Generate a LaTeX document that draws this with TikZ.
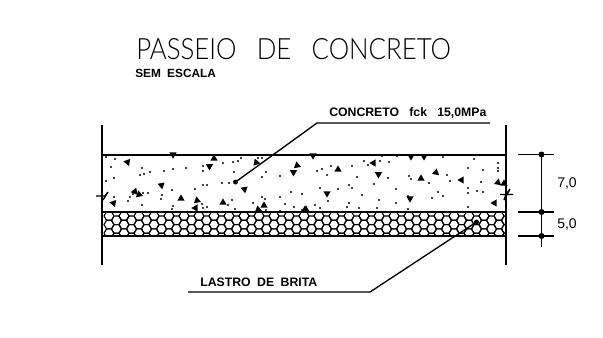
\documentclass[tikz,border=0pt]{standalone}
\usepackage{fontspec}
\setmainfont{Liberation Sans}
\newfontfamily\titlefont[FakeStretch=0.88]{Lato Light}
\usetikzlibrary{positioning,calc}

\tikzset{
	wallline/.style={line width=1.2pt,black},
	layerline/.style={line width=1.1pt,black},
	leaderline/.style={line width=1pt,black},
	dimline/.style={line width=1pt,black},
	hexline/.style={line width=0.85pt,black},
	labeltext/.style={inner sep=0pt,font=\fontsize{9.2}{11}\selectfont\bfseries},
	dimtext/.style={inner sep=0pt,font=\fontsize{10.5}{12}\selectfont},
}

\begin{document}
\begin{tikzpicture}[x=0.75pt,y=-0.75pt]
	\useasboundingbox (0,0) rectangle (603,337);
	
	% titulo
	\node[inner sep=0pt,anchor=west,font=\fontsize{22}{24}\selectfont\titlefont] (titulo) at (136,49.5) {PASSEIO\hspace{0.45em} DE\hspace{0.45em} CONCRETO};
	\node[labeltext,anchor=west,font=\fontsize{8.9}{10}\selectfont\bfseries] (escala) at (135,73.5) {SEM\hspace{0.25em} ESCALA};
	
	% brita
	\begin{scope}
		\clip (102,212) rectangle (506,236);
		\foreach \c in {0,...,27} {
			\foreach \r in {0,...,3} {
				\foreach \s in {0,1} {
					\draw[hexline,shift={(109+15*\c+7.5*\s,216+8.6*\r+4.3*\s)}]
						(-5,0) -- (-2.5,-4.3) -- (2.5,-4.3) -- (5,0) -- (2.5,4.3) -- (-2.5,4.3) -- cycle;
				}
			}
		}
	\end{scope}
	
	% camadas e paredes
	\draw[layerline] (102,155) -- (506,155);
	\draw[layerline] (102,212) -- (506,212);
	\draw[layerline] (102,236) -- (506,236);
	\draw[wallline] (102,125) -- (102,265);
	\draw[wallline] (506,125) -- (506,265);
	
	% linhas de corte
	\draw[line width=1pt] (96,196) -- (105,196) -- (108,192) -- (103,200);
	\draw[line width=1pt] (500,194.5) -- (506,194.5) -- (510,189) -- (504,200) -- (506,194.5) -- (513,194.5);
	
	% pontos do concreto
	\foreach \x/\y in {106/157,115/159,111/167,114/178,106/181,142/168,150/172,144/174,140/175,164/171,
		173/169,186/168,203/166,203/171,223/163,233/162,238/161,241/158,234/172,258/158,
		262/158,266/172,262/177,280/176,222/183,229/183,203/185,207/185,195/189,172/190,
		162/186,148/193,143/193,133/194,130/197,128/201,114/197,142/205,162/195,161/199,
		202/204,207/207,203/208,173/206,172/209,232/200,228/205,235/209,253/203,262/197,
		265/199,266/210,280/197,285/204,291/192,302/194,294/207,302/210,280/211,317/171,
		322/169,327/175,331/166,352/166,357/177,364/161,368/165,380/161,389/162,388/178,
		374/184,409/176,411/179,429/183,447/175,450/181,468/168,483/170,474/159,498/163,
		498/168,498/171,481/182,468/188,468/193,477/191,483/192,320/188,338/189,349/185,
		352/188,362/195,396/189,379/200,396/203,438/192,443/196,432/198,408/196,315/205,
		320/208,328/201,349/203,347/207,359/208,377/208,408/209,468/207,443/157,382/156,397/156} {
		\fill (\x,\y) circle (1.1);
	}
	
	% triangulos do concreto
	\foreach \x/\y/\a in {127/162/80,214/158/0,256/162/20,297/165/10,293/172/60,209/166/60,161/185/70,
		244/189/70,135/191/-20,139/194/10,113/203/80,181/198/0,197/200/10,195/208/90,223/202/0,
		258/209/10,264/205/0,306/209/0,173/155/180,313/156/180,338/169/0,373/163/90,378/174/60,
		421/178/0,436/172/-10,461/180/90,498/182/-10,504/183/0,327/194/180,410/199/180,
		494/203/90,424/157/180,411/157/180,305/209/0} {
		\fill[rotate around={\a:(\x,\y)}] (\x-3.6,\y+2.6) -- (\x+3.6,\y+2.6) -- (\x,\y-3.6) -- cycle;
	}
	
	% chamadas
	\coordinate (c1) at (235.5,182);
	\coordinate (c2) at (317,123);
	\coordinate (c3) at (490,123);
	\fill (c1) circle (2.5);
	\draw[leaderline] (c1) -- (c2) -- (c3);
	\node[labeltext,anchor=west] (concreto) at (329,112.5) {CONCRETO\hspace{0.55em} fck\hspace{0.55em} 15,0MPa};
	
	\coordinate (b1) at (476.5,222);
	\coordinate (b2) at (370,292);
	\coordinate (b3) at (188,292);
	\fill (b1) circle (2.5);
	\draw[leaderline] (b1) -- (b2) -- (b3);
	\node[labeltext,anchor=west] (lastro) at (200,282) {LASTRO\hspace{0.25em} DE\hspace{0.25em} BRITA};
	
	% cotas
	\coordinate (d1) at (541.5,154.5);
	\coordinate (d2) at (541.5,212);
	\coordinate (d3) at (541.5,236);
	\coordinate (d4) at (541.5,247);
	\foreach \p in {d1,d2,d3} {
		\draw[dimline] ($(\p)+(-24,0)$) -- ($(\p)+(12.5,0)$);
		\fill (\p) circle (3);
	}
	\draw[dimline] (d1) -- (d4);
	\node[dimtext,anchor=west] (cota7) at (557,183) {7,0};
	\node[dimtext,anchor=west] (cota5) at (557,224) {5,0};
\end{tikzpicture}
\end{document}
